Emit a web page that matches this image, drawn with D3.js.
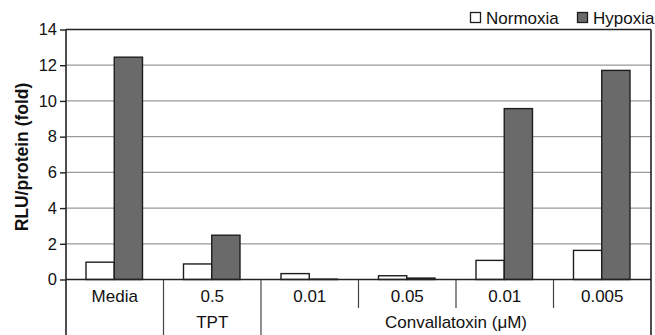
<!DOCTYPE html>
<html>
<head>
<meta charset="utf-8">
<script src="https://cdn.jsdelivr.net/npm/d3@7"></script>
<style>
  body { margin: 0; background: #fff; }
  svg { display: block; font-family: "Liberation Sans", Arial, sans-serif; }
</style>
</head>
<body>
<div id="grafico"></div>
<script>
// data
const categories = ["Media", "0.5", "0.01", "0.05", "0.01", "0.005"];
const groups = [
  { label: "", from: 0, to: 0 },
  { label: "TPT", from: 1, to: 1 },
  { label: "Convallatoxin (\u03BCM)", from: 2, to: 5 }
];
const series = ["Normoxia", "Hypoxia"];
const normoxia = [0.97, 0.87, 0.33, 0.21, 1.07, 1.63];
const hypoxia = [12.45, 2.48, 0.02, 0.08, 9.57, 11.71];
const yTicks = [0, 2, 4, 6, 8, 10, 12, 14];

const ancho = 655, alto = 335;
const margen = { izquierdo: 66, derecho: 4, superior: 29.5, inferior: 55.5 };
const colores = { Normoxia: "#ffffff", Hypoxia: "#6a6a6a" };

const svg = d3.select("#grafico").append("svg")
  .attr("width", ancho).attr("height", alto);

const x0 = d3.scaleBand()
  .domain(d3.range(categories.length))
  .range([margen.izquierdo, ancho - margen.derecho])
  .padding(0);

const x1 = d3.scaleBand()
  .domain(series)
  .range([20, x0.bandwidth() - 21])
  .padding(0);

const y = d3.scaleLinear()
  .domain([0, 14])
  .range([alto - margen.inferior, margen.superior]);

const x0Left = margen.izquierdo, x0Right = ancho - margen.derecho;

// gridlines
svg.append("g")
  .selectAll("line")
  .data(yTicks.filter(d => d > 0 && d < 14))
  .enter().append("line")
  .attr("x1", x0Left).attr("x2", x0Right)
  .attr("y1", d => y(d)).attr("y2", d => y(d))
  .style("stroke", "#9a9a9a").style("stroke-width", 1.2);

// bars
const rows = categories.map((c, i) => ({ i: i, Normoxia: normoxia[i], Hypoxia: hypoxia[i] }));
svg.append("g")
  .selectAll("g")
  .data(rows)
  .enter().append("g")
  .attr("transform", d => "translate(" + x0(d.i) + ",0)")
  .selectAll("rect")
  .data(d => series.map(s => ({ s: s, v: d[s] })))
  .enter().append("rect")
  .attr("x", d => x1(d.s))
  .attr("y", d => y(d.v))
  .attr("width", x1.bandwidth())
  .attr("height", d => y(0) - y(d.v))
  .style("fill", d => colores[d.s])
  .style("stroke", "#1e1e1e")
  .style("stroke-width", 1.4);

// frame: top and right
svg.append("line")
  .attr("x1", x0Left).attr("x2", x0Right)
  .attr("y1", y(14)).attr("y2", y(14))
  .style("stroke", "#222").style("stroke-width", 1.6);
svg.append("line")
  .attr("x1", x0Right).attr("x2", x0Right)
  .attr("y1", y(14)).attr("y2", alto)
  .style("stroke", "#222").style("stroke-width", 1.6);

// y axis
const yAxis = svg.append("g")
  .attr("transform", "translate(" + x0Left + ",0)")
  .call(d3.axisLeft(y).tickValues(yTicks).tickSize(6).tickPadding(3));
yAxis.select(".domain").remove();
yAxis.selectAll(".tick line").style("stroke", "#222").style("stroke-width", 1.4);
yAxis.selectAll(".tick text")
  .style("font-size", "16.5px").style("fill", "#111");
svg.append("line")
  .attr("x1", x0Left).attr("x2", x0Left)
  .attr("y1", y(14)).attr("y2", alto)
  .style("stroke", "#222").style("stroke-width", 1.6);

// zero line
svg.append("line")
  .attr("x1", x0Left).attr("x2", x0Right)
  .attr("y1", y(0)).attr("y2", y(0))
  .style("stroke", "#222").style("stroke-width", 1.6);

// y title
svg.append("text")
  .attr("transform", "translate(28,157) rotate(-90)")
  .attr("text-anchor", "middle")
  .style("font-size", "17.5px").style("font-weight", "bold").style("fill", "#111")
  .text("RLU/protein (fold)");

// category labels
svg.append("g")
  .selectAll("text")
  .data(categories)
  .enter().append("text")
  .attr("x", (d, i) => x0(i) + x0.bandwidth() / 2)
  .attr("y", 301.5)
  .attr("text-anchor", "middle")
  .style("font-size", "17px").style("fill", "#111")
  .text(d => d);

// separators between categories
const groupEdges = new Set();
groups.forEach(g => { groupEdges.add(g.from); groupEdges.add(g.to + 1); });
svg.append("g")
  .selectAll("line")
  .data(d3.range(1, categories.length))
  .enter().append("line")
  .attr("x1", i => x0(i)).attr("x2", i => x0(i))
  .attr("y1", y(0))
  .attr("y2", i => groupEdges.has(i) ? alto : 308)
  .style("stroke", "#444").style("stroke-width", 1.2);

// group labels
svg.append("g")
  .selectAll("text")
  .data(groups)
  .enter().append("text")
  .attr("x", g => (x0(g.from) + x0(g.to) + x0.bandwidth()) / 2)
  .attr("y", 328)
  .attr("text-anchor", "middle")
  .style("font-size", "17px").style("fill", "#111")
  .text(g => g.label);

// legend
const legendPos = [470.5, 577.5];
const legend = svg.append("g")
  .selectAll("g")
  .data(series)
  .enter().append("g")
  .attr("transform", (d, i) => "translate(" + legendPos[i] + ",0)");
legend.append("rect")
  .attr("x", 0).attr("y", 12.5)
  .attr("width", 10).attr("height", 10)
  .style("fill", d => colores[d])
  .style("stroke", "#1e1e1e").style("stroke-width", 1.3);
legend.append("text")
  .attr("x", 15.5)
  .attr("y", 23.5)
  .style("font-size", "17px").style("fill", "#111")
  .text(d => d);
</script>
</body>
</html>
